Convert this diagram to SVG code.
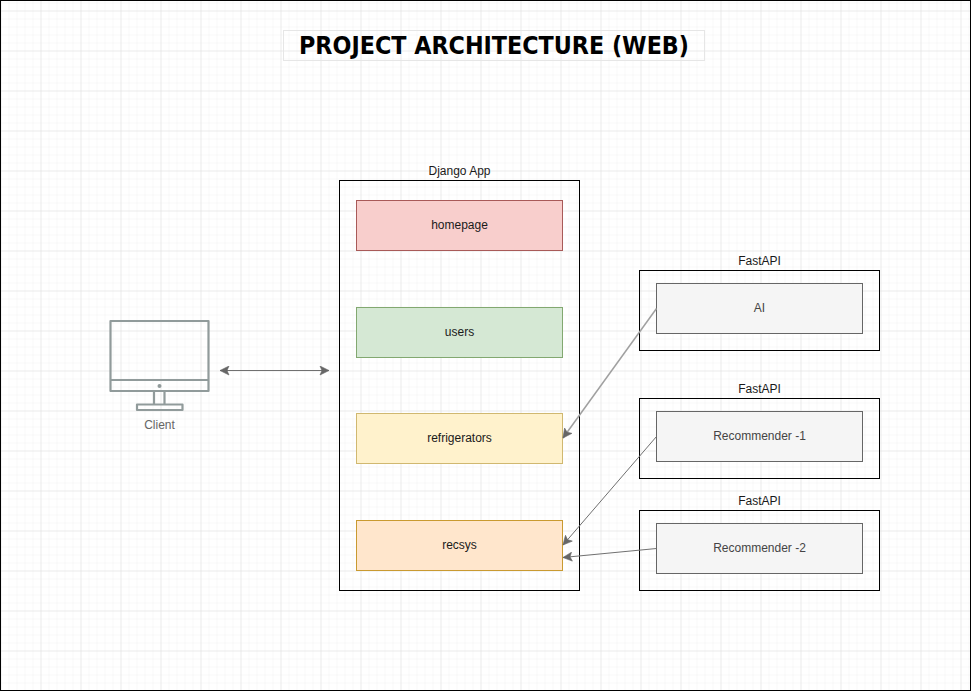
<svg xmlns="http://www.w3.org/2000/svg" width="971" height="691" viewBox="0 0 971 691">
<style>
text{font-family:"Liberation Sans",Arial,sans-serif;font-size:12px;text-anchor:middle;fill:#1a1a1a}
.t{fill:#444}
.lbl{fill:#666}
.box{fill:none;stroke:#000;stroke-width:1}
.svc{fill:#f5f5f5;stroke:#666;stroke-width:1}
.cn{fill:none;stroke:#707070;stroke-width:1;marker-end:url(#a)}
.pc{fill:none;stroke:#919b9b;stroke-width:2.2;stroke-linejoin:round}
</style>
<defs>
<pattern id="g1" width="8" height="8" patternUnits="userSpaceOnUse" x="0.5" y="2.5"><path d="M0 0H8M0 0V8" fill="none" stroke="#f1f1f1" stroke-width="1"/></pattern>
<pattern id="g2" width="40" height="40" patternUnits="userSpaceOnUse" x="0.5" y="10.5"><path d="M0 0H40M0 0V40" fill="none" stroke="#e0e0e0" stroke-width="1"/></pattern>
<marker id="a" markerWidth="12" markerHeight="10" refX="10" refY="5" orient="auto" markerUnits="userSpaceOnUse"><path d="M1 .5L10 5L1 9.500L3 5Z" fill="#666" stroke="#666" stroke-width=".6"/></marker>
<marker id="as" markerWidth="12" markerHeight="10" refX="1" refY="5" orient="auto" markerUnits="userSpaceOnUse"><path d="M10 .5L1 5L10 9.500L8 5Z" fill="#666" stroke="#666" stroke-width=".6"/></marker>
</defs>
<rect width="971" height="691" fill="#fff"/>
<rect width="971" height="691" fill="url(#g1)"/>
<rect width="971" height="691" fill="url(#g2)"/>
<rect x=".5" y=".5" width="970" height="690" fill="none" stroke="#000"/>
<g id="title"><rect x="283.500" y="30.500" width="421" height="30" fill="none" stroke="#e6e6e6"/><text x="494" y="54" style="font-family:'DejaVu Sans',sans-serif;font-size:24px;font-weight:700;fill:#000" textLength="390" lengthAdjust="spacingAndGlyphs">PROJECT ARCHITECTURE (WEB)</text></g>
<g id="client">
<path class="pc" d="M110.500 321H208.500V391H110.500ZM110.500 380H208.500M154 391V404.500M164.500 391V404.500M137 404.500H182.500V410H137Z"/>
<circle cx="159.500" cy="386" r="2" fill="#919b9b"/>
<text class="lbl" x="159.500" y="429">Client</text>
</g>
<g id="django"><rect class="box" x="339.500" y="180.500" width="240" height="410"/><text x="459.500" y="175">Django App</text></g>
<g id="homepage"><rect x="356.500" y="200.500" width="206" height="50" fill="#f8cecc" stroke="#a85a58"/><text x="459.500" y="229">homepage</text></g>
<g id="users"><rect x="356.500" y="307.500" width="206" height="50" fill="#d5e8d4" stroke="#82a870"/><text x="459.500" y="336">users</text></g>
<g id="refrigerators"><rect x="356.500" y="413.500" width="206" height="50" fill="#fff2cc" stroke="#d0b870"/><text x="459.500" y="442">refrigerators</text></g>
<g id="recsys"><rect x="356.500" y="520.500" width="206" height="50" fill="#ffe6cc" stroke="#c99a30"/><text x="459.500" y="549">recsys</text></g>
<g id="fastapi-ai"><rect class="box" x="639.500" y="270.500" width="240" height="80"/><text x="759.500" y="265">FastAPI</text><rect class="svc" x="656.500" y="283.500" width="206" height="50"/><text class="t" x="759.500" y="312">AI</text></g>
<g id="fastapi-rec1"><rect class="box" x="639.500" y="398.500" width="240" height="80"/><text x="759.500" y="393">FastAPI</text><rect class="svc" x="656.500" y="411.500" width="206" height="50"/><text class="t" x="759.500" y="440">Recommender -1</text></g>
<g id="fastapi-rec2"><rect class="box" x="639.500" y="510.500" width="240" height="80"/><text x="759.500" y="505">FastAPI</text><rect class="svc" x="656.500" y="523.500" width="206" height="50"/><text class="t" x="759.500" y="552">Recommender -2</text></g>
<g id="connectors">
<path class="cn" d="M220 370.500H329" marker-start="url(#as)"/>
<path class="cn" style="stroke:#a0a0a0;stroke-width:1.500" d="M656.500 308.500L563 438"/>
<path class="cn" d="M656.500 436.500L563 545"/>
<path class="cn" d="M656.500 548.500L563 557.500"/>
</g>
</svg>
